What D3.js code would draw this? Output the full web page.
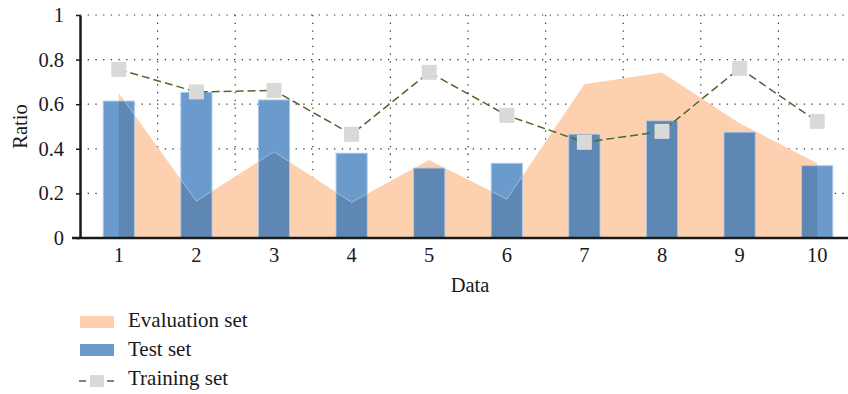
<!DOCTYPE html>
<html>
<head>
<meta charset="utf-8">
<script src="https://cdn.jsdelivr.net/npm/d3@7"></script>
<style>
  body { margin: 0; background: #fff; }
  text { font-family: "Liberation Serif", "Times New Roman", serif; fill: #1a1a1a; }
</style>
</head>
<body>
<div id="chart"></div>
<script>
// values
var categories = ["1", "2", "3", "4", "5", "6", "7", "8", "9", "10"];
var evaluationSet = [0.65, 0.165, 0.387, 0.16, 0.35, 0.174, 0.69, 0.742, 0.515, 0.335];
var testSet = [0.614, 0.653, 0.619, 0.38, 0.313, 0.335, 0.465, 0.525, 0.474, 0.324];
var trainingSet = [0.756, 0.655, 0.662, 0.465, 0.743, 0.55, 0.429, 0.478, 0.761, 0.523];
var yTicks = [0, 0.2, 0.4, 0.6, 0.8, 1];
var legendLabels = ["Evaluation set", "Test set", "Training set"];

function drawChart() {

    var width = 848, height = 394;
    var left = 80, right = 856, top = 15, bottom = 238;

    var svg = d3.select("#chart")
        .append("svg")
        .attr("width", width)
        .attr("height", height);

    var x = d3.scaleBand()
        .domain(categories)
        .range([left, right]);
    var cx = function (i) { return x(categories[i]) + x.bandwidth() / 2; };

    var y = d3.scaleLinear()
        .domain([0, 1])
        .range([bottom, top]);

    // dotted grid
    svg.append("g")
        .selectAll("line")
        .data(yTicks.slice(1))
        .enter().append("line")
        .attr("x1", left).attr("x2", width)
        .attr("y1", function (d) { return y(d); })
        .attr("y2", function (d) { return y(d); })
        .attr("stroke", "#333")
        .attr("stroke-width", 1.2)
        .attr("stroke-dasharray", "1.3,6.4");
    svg.append("g")
        .selectAll("line")
        .data(categories.slice(1))
        .enter().append("line")
        .attr("x1", function (d) { return x(d); })
        .attr("x2", function (d) { return x(d); })
        .attr("y1", top).attr("y2", bottom)
        .attr("stroke", "#333")
        .attr("stroke-width", 1.2)
        .attr("stroke-dasharray", "1.3,6.4");

    // evaluation set area
    var area = d3.area()
        .x(function (d, i) { return cx(i); })
        .y0(y(0))
        .y1(function (d) { return y(d); });
    svg.append("path")
        .datum(evaluationSet)
        .attr("d", area)
        .attr("fill", "#fdd0af");

    var defs = svg.append("defs");
    defs.append("clipPath").attr("id", "areaClip")
        .append("path").datum(evaluationSet).attr("d", area);

    var barW = x.bandwidth() * 0.4;
    var barClip = defs.append("clipPath").attr("id", "barClip");
    barClip.selectAll("rect")
        .data(testSet)
        .enter().append("rect")
        .attr("x", function (d, i) { return cx(i) - barW / 2; })
        .attr("y", function (d) { return y(d); })
        .attr("width", barW)
        .attr("height", function (d) { return y(0) - y(d); });

    // test set bars
    svg.append("g")
        .selectAll("rect")
        .data(testSet)
        .enter().append("rect")
        .attr("x", function (d, i) { return cx(i) - barW / 2; })
        .attr("y", function (d) { return y(d); })
        .attr("width", barW)
        .attr("height", function (d) { return y(0) - y(d); })
        .attr("fill", "#6b9bcc")
        .attr("stroke", "#a9c6e6")
        .attr("stroke-width", 1);

    // overlap of bars and area is darker
    svg.append("g")
        .attr("clip-path", "url(#areaClip)")
        .selectAll("rect")
        .data(testSet)
        .enter().append("rect")
        .attr("x", function (d, i) { return cx(i) - barW / 2 + 0.5; })
        .attr("y", function (d) { return y(d) + 0.5; })
        .attr("width", barW - 1)
        .attr("height", function (d) { return y(0) - y(d) - 0.5; })
        .attr("fill", "#5e88b3");
    svg.append("path")
        .datum(evaluationSet)
        .attr("clip-path", "url(#barClip)")
        .attr("d", d3.line().x(function (d, i) { return cx(i); }).y(function (d) { return y(d); }))
        .attr("fill", "none")
        .attr("stroke", "#9fbddc")
        .attr("stroke-width", 1);

    // training set line + squares
    svg.append("path")
        .datum(trainingSet)
        .attr("d", d3.line().x(function (d, i) { return cx(i); }).y(function (d) { return y(d); }))
        .attr("fill", "none")
        .attr("stroke", "#4b6a2c")
        .attr("stroke-width", 1.5)
        .attr("stroke-dasharray", "8,4");
    svg.append("g")
        .selectAll("rect")
        .data(trainingSet)
        .enter().append("rect")
        .attr("x", function (d, i) { return cx(i) - 7.5; })
        .attr("y", function (d) { return y(d) - 7.5; })
        .attr("width", 15)
        .attr("height", 15)
        .attr("fill", "#d9d9d9");

    // axes
    var yAxis = svg.append("g")
        .attr("transform", "translate(" + left + ",0)")
        .call(d3.axisLeft(y).tickValues(yTicks).tickSize(4).tickSizeOuter(0).tickPadding(12)
            .tickFormat(function (d) { return d === 0 || d === 1 ? d : d.toFixed(1); }));
    yAxis.select(".domain").attr("stroke", "#1a1a1a").attr("stroke-width", 2.5);
    yAxis.selectAll(".tick line").attr("stroke", "#1a1a1a").attr("stroke-width", 1.5);
    yAxis.selectAll("text").style("font-size", "20.5px").attr("fill", "#1a1a1a");

    var xAxis = svg.append("g")
        .attr("transform", "translate(0," + bottom + ")")
        .call(d3.axisBottom(x).tickSize(0).tickPadding(9));
    xAxis.select(".domain").remove();
    xAxis.selectAll("text").style("font-size", "20.5px").attr("fill", "#1a1a1a");
    svg.append("line")
        .attr("x1", 72).attr("x2", width)
        .attr("y1", bottom).attr("y2", bottom)
        .attr("stroke", "#1a1a1a")
        .attr("stroke-width", 2.5);

    svg.append("text")
        .attr("x", 470)
        .attr("y", 292)
        .attr("text-anchor", "middle")
        .style("font-size", "20.5px")
        .text("Data");
    svg.append("text")
        .attr("transform", "translate(27," + (top + bottom) / 2 + ") rotate(-90)")
        .attr("text-anchor", "middle")
        .style("font-size", "20.5px")
        .text("Ratio");

    // legend
    var rows = [327, 356, 385];
    var lg = svg.append("g");
    lg.append("rect").attr("x", 80).attr("y", rows[0] - 11).attr("width", 34).attr("height", 12).attr("fill", "#fdd0af");
    lg.append("rect").attr("x", 80).attr("y", rows[1] - 12).attr("width", 34).attr("height", 12).attr("fill", "#6b9bcc");
    lg.append("line").attr("x1", 79).attr("x2", 114).attr("y1", rows[2] - 4).attr("y2", rows[2] - 4)
        .attr("stroke", "#4b6a2c").attr("stroke-width", 1.5).attr("stroke-dasharray", "7,21");
    lg.append("rect").attr("x", 90).attr("y", rows[2] - 10).attr("width", 14).attr("height", 12).attr("fill", "#d9d9d9");
    lg.selectAll("text")
        .data(legendLabels)
        .enter().append("text")
        .attr("x", 128)
        .attr("y", function (d, i) { return rows[i]; })
        .style("font-size", "21px")
        .text(function (d) { return d; });
}

drawChart();
</script>
</body>
</html>
